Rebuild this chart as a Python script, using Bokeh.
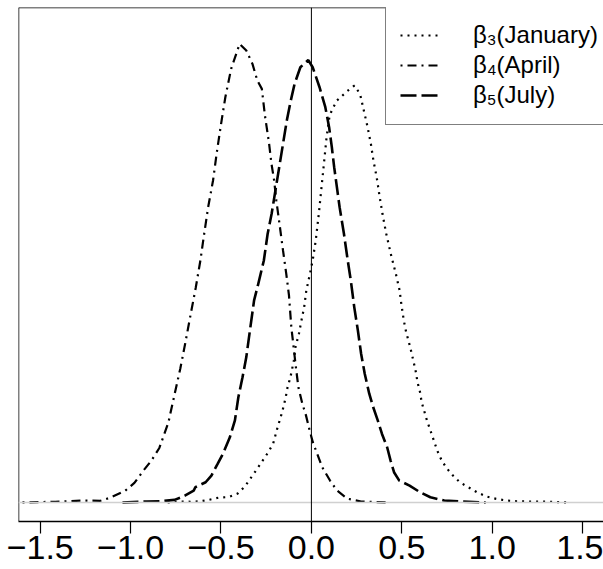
from bokeh.plotting import figure
from bokeh.models import (FixedTicker, Span, Legend, LegendItem, Range1d)
from bokeh.embed import file_html
from bokeh.resources import INLINE

# ---- data ----
jan_x = [-0.795, -0.725, -0.669, -0.614, -0.567, -0.514, -0.457, -0.407, -0.368, -0.337,
         -0.304, -0.273, -0.243, -0.212, -0.187, -0.170, -0.155, -0.142, -0.132, -0.116,
         -0.097, -0.088, -0.069, -0.055, -0.040, -0.028, -0.008, 0.007, 0.024, 0.041,
         0.056, 0.071, 0.084, 0.100, 0.113, 0.141, 0.166, 0.199, 0.238, 0.269,
         0.290, 0.311, 0.329, 0.343, 0.361, 0.375, 0.393, 0.414, 0.439, 0.467,
         0.488, 0.496, 0.511, 0.524, 0.539, 0.553, 0.566, 0.578, 0.587, 0.601,
         0.610, 0.626, 0.639, 0.658, 0.677, 0.696, 0.716, 0.744, 0.783, 0.821,
         0.868, 0.916, 0.968, 1.022, 1.079, 1.136, 1.194, 1.308, 1.414]
jan_y = [0.000, 0.004, 0.003, 0.005, 0.011, 0.020, 0.023, 0.038, 0.067, 0.101,
         0.137, 0.172, 0.206, 0.246, 0.316, 0.358, 0.400, 0.442, 0.484, 0.526,
         0.597, 0.653, 0.709, 0.765, 0.821, 0.891, 0.961, 1.017, 1.101, 1.213,
         1.325, 1.437, 1.535, 1.622, 1.648, 1.689, 1.706, 1.729, 1.752, 1.717,
         1.647, 1.577, 1.507, 1.437, 1.367, 1.297, 1.213, 1.129, 1.045, 0.961,
         0.891, 0.842, 0.765, 0.716, 0.674, 0.632, 0.589, 0.547, 0.505, 0.463,
         0.421, 0.379, 0.345, 0.303, 0.261, 0.218, 0.184, 0.148, 0.113, 0.085,
         0.064, 0.043, 0.025, 0.015, 0.008, 0.005, 0.004, 0.003, 0.000]

apr_x = [-1.598, -1.416, -1.261, -1.167, -1.112, -1.029, -0.979, -0.929, -0.885, -0.841,
         -0.791, -0.758, -0.725, -0.697, -0.667, -0.640, -0.614, -0.593, -0.571, -0.544,
         -0.523, -0.501, -0.476, -0.444, -0.397, -0.360, -0.326, -0.299, -0.274, -0.257,
         -0.235, -0.221, -0.206, -0.194, -0.174, -0.157, -0.139, -0.124, -0.111, -0.088,
         -0.072, -0.050, -0.030, -0.007, 0.008, 0.060, 0.103, 0.142, 0.199, 0.275, 0.429]
apr_y = [0.000, 0.003, 0.008, 0.007, 0.020, 0.050, 0.082, 0.134, 0.176, 0.229,
         0.336, 0.450, 0.563, 0.672, 0.794, 0.901, 1.017, 1.129, 1.241, 1.353,
         1.472, 1.584, 1.703, 1.822, 1.927, 1.899, 1.843, 1.773, 1.738, 1.626,
         1.514, 1.424, 1.353, 1.269, 1.157, 1.059, 0.961, 0.870, 0.737, 0.583,
         0.484, 0.415, 0.366, 0.295, 0.253, 0.148, 0.092, 0.050, 0.016, 0.004, 0.000]

jul_x = [-1.045, -0.910, -0.834, -0.757, -0.725, -0.700, -0.651, -0.642, -0.585, -0.553,
         -0.518, -0.489, -0.451, -0.423, -0.404, -0.381, -0.360, -0.340, -0.317, -0.296,
         -0.263, -0.242, -0.220, -0.199, -0.178, -0.157, -0.136, -0.114, -0.093, -0.061,
         -0.017, 0.007, 0.045, 0.077, 0.098, 0.113, 0.126, 0.141, 0.156, 0.180,
         0.201, 0.218, 0.237, 0.257, 0.275, 0.295, 0.320, 0.342, 0.367, 0.390,
         0.419, 0.438, 0.457, 0.486, 0.543, 0.601, 0.658, 0.735, 0.830, 0.964]
jul_y = [0.000, 0.004, 0.005, 0.011, 0.020, 0.029, 0.050, 0.064, 0.085, 0.113,
         0.163, 0.205, 0.274, 0.345, 0.442, 0.526, 0.611, 0.723, 0.849, 0.912,
         1.017, 1.129, 1.213, 1.311, 1.409, 1.507, 1.605, 1.689, 1.759, 1.829,
         1.859, 1.829, 1.745, 1.661, 1.577, 1.493, 1.409, 1.325, 1.241, 1.129,
         1.017, 0.933, 0.821, 0.723, 0.625, 0.541, 0.457, 0.400, 0.345, 0.289,
         0.232, 0.176, 0.127, 0.092, 0.071, 0.043, 0.022, 0.008, 0.004, 0.000]

series_labels = ["\u03b2\u2083(January)", "\u03b2\u2084(April)", "\u03b2\u2085(July)"]
tick_values = [-1.5, -1.0, -0.5, 0.0, 0.5, 1.0, 1.5]
tick_labels = ["\u22121.5", "\u22121.0", "\u22120.5", "0.0", "0.5", "1.0", "1.5"]

x_lo, x_hi = -1.62, 1.6156
y_lo, y_hi = -0.08, 2.08

p = figure(width=603, height=569, output_backend="svg", toolbar_location=None,
           x_range=Range1d(x_lo, x_hi), y_range=Range1d(y_lo, y_hi))
p.min_border_left = 18
p.min_border_right = 0
p.min_border_top = 7
p.min_border_bottom = 48
p.outline_line_color = None
p.xgrid.visible = False
p.ygrid.visible = False
p.yaxis.visible = False
p.background_fill_color = "white"
p.border_fill_color = "white"

ax = p.xaxis[0]
ax.ticker = FixedTicker(ticks=tick_values)
ax.major_label_overrides = {v: s for v, s in zip(tick_values, tick_labels)}
ax.minor_tick_line_color = None
ax.major_tick_in = 0
ax.major_tick_out = 12
ax.major_tick_line_color = "black"
ax.major_tick_line_width = 1.2
ax.axis_line_color = "black"
ax.axis_line_width = 1.5
ax.major_label_text_font = "Liberation Sans"
ax.major_label_text_font_size = "34px"
ax.major_label_text_line_height = 0.9
ax.major_label_text_color = "black"
ax.major_label_standoff = 2

# frame borders (top and left; the bottom is the axis line)
p.add_layout(Span(location=y_hi, dimension="width", line_color="black", line_width=1.5))
p.add_layout(Span(location=x_lo, dimension="height", line_color="black", line_width=1.5))

# reference lines
p.add_layout(Span(location=0, dimension="width", line_color="#d0d0d0", line_width=1.5))
p.add_layout(Span(location=0, dimension="height", line_color="black", line_width=1))

r_jan = p.line(jan_x, jan_y, line_color="black", line_width=2.2, line_dash="2 5")
r_apr = p.line(apr_x, apr_y, line_color="black", line_width=2.2, line_dash="2 5 9 5")
r_jul = p.line(jul_x, jul_y, line_color="black", line_width=2.6, line_dash="16 5")

legend = Legend(items=[LegendItem(label=series_labels[0], renderers=[r_jan]),
                       LegendItem(label=series_labels[1], renderers=[r_apr]),
                       LegendItem(label=series_labels[2], renderers=[r_jul])],
                location=(367, 396))
legend.border_line_color = "black"
legend.border_line_width = 1
legend.background_fill_color = "white"
legend.background_fill_alpha = 1
legend.padding = 14
legend.spacing = 0
legend.margin = 0
legend.glyph_width = 38
legend.glyph_height = 30
legend.label_height = 30
legend.label_standoff = 35
legend.label_width = 130
legend.label_text_font = "Liberation Sans"
legend.label_text_font_size = "24px"
legend.label_text_color = "black"
legend.label_text_baseline = "middle"
p.add_layout(legend)

open("out.html", "w").write(file_html(p, INLINE))
